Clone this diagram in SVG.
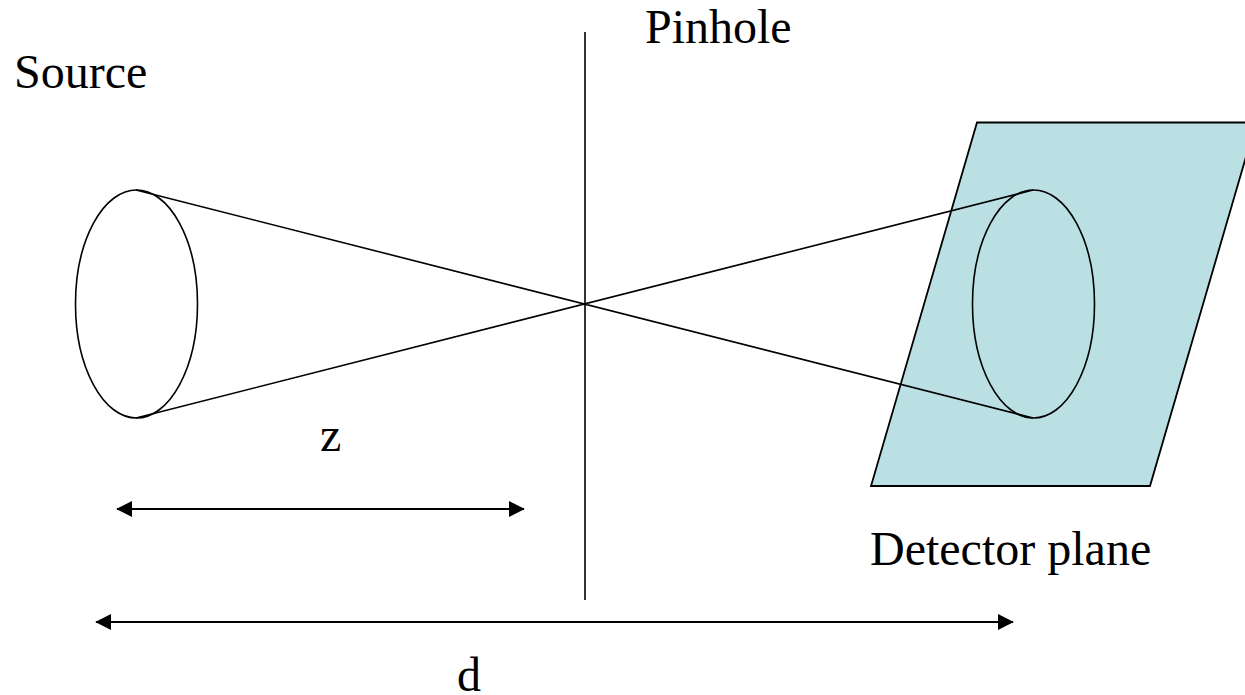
<svg xmlns="http://www.w3.org/2000/svg" width="1245" height="695" viewBox="0 0 1245 695">
<style>
.l{fill:none;stroke:#000;stroke-width:1.6}
.t{font-family:"Liberation Serif",serif;font-size:48px;fill:#000}
.a{fill:none;stroke:#000;stroke-width:2.2;marker-start:url(#h);marker-end:url(#h)}
</style>
<defs><marker id="h" viewBox="0 0 10 10" refX="9.500" refY="5" markerUnits="userSpaceOnUse" markerWidth="16" markerHeight="16" orient="auto-start-reverse"><path d="M0 0L10 5L0 10Z" fill="#000"/></marker></defs>
<rect width="1245" height="695" fill="#fff"/>
<g id="detector-plane"><path d="M977 122.500H1256L1150 486H871Z" fill="#bbe0e3" stroke="#000" stroke-width="1.8"/></g>
<g id="source-ellipse"><ellipse class="l" cx="136.500" cy="304" rx="61" ry="114"/></g>
<g id="image-ellipse"><ellipse class="l" cx="1033.500" cy="304" rx="61" ry="114"/></g>
<g id="connectors">
<path class="l" d="M136 190L1033 418M136 418L1033 190M585 32V600"/>
<path class="a" d="M117 509H524"/>
<path class="a" d="M96 622H1013"/>
</g>
<text class="t" x="14" y="88">Source</text>
<text class="t" x="645" y="43">Pinhole</text>
<text class="t" x="320" y="451">z</text>
<text class="t" x="870" y="565">Detector plane</text>
<text class="t" x="457" y="691">d</text>
</svg>
